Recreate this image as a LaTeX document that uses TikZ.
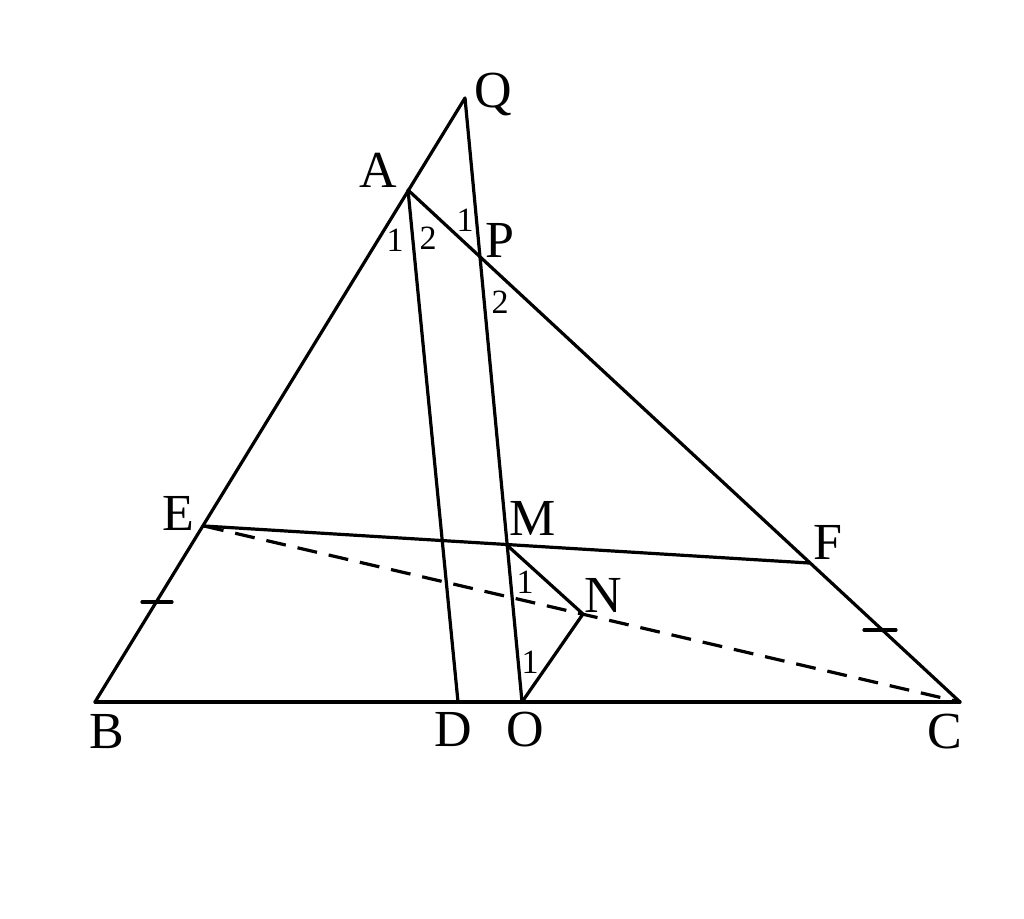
\documentclass[tikz,border=0pt]{standalone}
\usepackage{fontspec}
\setmainfont{Liberation Serif}
\begin{document}
\begin{tikzpicture}[x=0.5pt,y=-0.5pt,
  seg/.style={line width=1.6pt,line cap=round,line join=round},
  dsh/.style={line width=1.6pt,dash pattern=on 10pt off 6pt},
  lab/.style={inner sep=0pt,font=\fontsize{26}{30}\selectfont},
  ang/.style={inner sep=0pt,font=\fontsize{17}{20}\selectfont}]
\useasboundingbox (0,0) rectangle (1024,919);
\fill[white] (0,0) rectangle (1024,919);
% points
\coordinate (B) at (95,702);
\coordinate (C) at (960,702);
\coordinate (A) at (408,190);
\coordinate (Q) at (465,98);
\coordinate (P) at (480,257);
\coordinate (D) at (458,702);
\coordinate (O) at (522,702);
\coordinate (E) at (204,526);
\coordinate (F) at (809,563);
\coordinate (M) at (509,547);
\coordinate (N) at (583,614);
\coordinate (T1) at (157,602);
\coordinate (T2) at (880,630);
% lines
\draw[seg] (B) -- (C);
\draw[seg] (B) -- (Q);
\draw[seg] (A) -- (C);
\draw[seg] (A) -- (D);
\draw[seg] (Q) -- (O);
\draw[seg] (E) -- (F);
\draw[seg] (M) -- (N) -- (O);
\draw[dsh] (E) -- (C);
% ticks
\draw[seg] ([xshift=-7.5pt]T1) -- ([xshift=7.5pt]T1);
\draw[seg] ([xshift=-8pt]T2) -- ([xshift=8pt]T2);
% labels
\node[lab] (lQ) at (493,95) {Q};
\node[lab] (lA) at (378,170) {A};
\node[lab] (lP) at (500,240) {P};
\node[lab] (lE) at (178,513) {E};
\node[lab] (lM) at (533,518) {M};
\node[lab] (lN) at (603,595) {N};
\node[lab] (lF) at (828,542) {F};
\node[lab] (lB) at (107,732) {B};
\node[lab] (lD) at (453,730) {D};
\node[lab] (lO) at (525,730) {O};
\node[lab] (lC) at (945,732) {C};
\node[ang] (a1) at (395,240) {1};
\node[ang] (a2) at (428,238) {2};
\node[ang] (p1) at (465,220) {1};
\node[ang] (p2) at (500,302) {2};
\node[ang] (m1) at (525,582) {1};
\node[ang] (o1) at (530,662) {1};
\end{tikzpicture}
\end{document}
